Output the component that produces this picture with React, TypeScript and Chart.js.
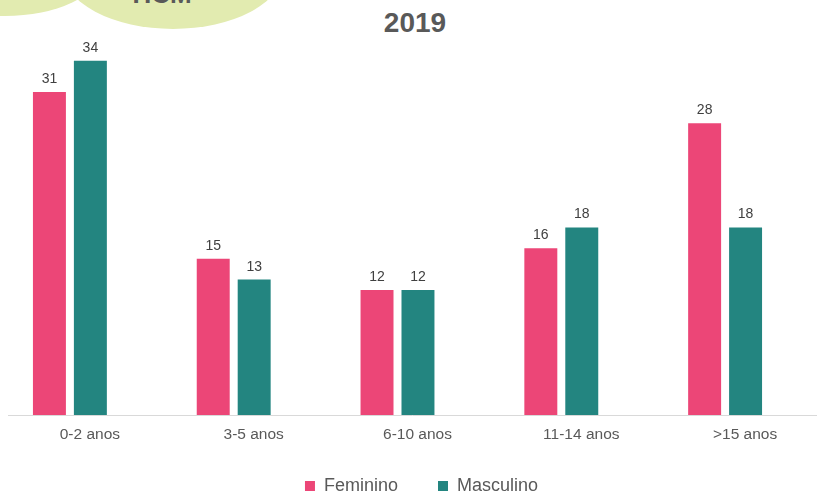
import React, { useEffect, useRef } from "react";
import { Chart, registerables } from "chart.js";

Chart.register(...registerables);

const categories = ["0-2 anos", "3-5 anos", "6-10 anos", "11-14 anos", ">15 anos"];
const seriesNames = ["Feminino", "Masculino"];
const feminino = [31, 15, 12, 16, 28];
const masculino = [34, 13, 12, 18, 18];
const titleText = "2019";
const yMax = 38;

const FONT = "'Liberation Sans', Arial, Helvetica, sans-serif";

const valueLabels = {
  id: "valueLabels",
  afterDatasetsDraw(chart: any) {
    const ctx = chart.ctx;
    ctx.save();
    ctx.font = `14px ${FONT}`;
    ctx.fillStyle = "#404040";
    ctx.textAlign = "center";
    ctx.textBaseline = "alphabetic";
    chart.data.datasets.forEach((ds: any, di: number) => {
      const meta = chart.getDatasetMeta(di);
      meta.data.forEach((el: any, i: number) => {
        ctx.fillText(String(ds.data[i]), el.x, el.y - 9);
      });
    });
    ctx.restore();
  },
};

const baseline = {
  id: "baseline",
  beforeDatasetsDraw(chart: any) {
    const ctx = chart.ctx;
    const y = chart.chartArea.bottom + 0.5;
    ctx.save();
    ctx.strokeStyle = "#d9d9d9";
    ctx.lineWidth = 1;
    ctx.beginPath();
    ctx.moveTo(20, y);
    ctx.lineTo(chart.width, y);
    ctx.stroke();
    ctx.restore();
  },
};

const legendShift = {
  id: "legendShift",
  afterLayout(chart: any) {
    if (chart.legend) {
      chart.legend.left += 24;
      chart.legend.right += 24;
      chart.legend.top -= 29;
      chart.legend.bottom -= 29;
    }
  },
};

export default function App() {
  const ref = useRef<HTMLCanvasElement>(null);

  useEffect(() => {
    if (!ref.current) return;
    const chart = new Chart(ref.current, {
      type: "bar",
      data: {
        labels: categories,
        datasets: [
          {
            label: seriesNames[0],
            data: feminino,
            backgroundColor: "#ec4677",
            categoryPercentage: 0.5,
            barPercentage: 0.805,
          },
          {
            label: seriesNames[1],
            data: masculino,
            backgroundColor: "#238580",
            categoryPercentage: 0.5,
            barPercentage: 0.805,
          },
        ],
      },
      options: {
        responsive: false,
        animation: false,
        devicePixelRatio: 1,
        layout: { padding: { top: 19, right: 10, left: 0, bottom: 0 } },
        plugins: {
          title: { display: false },
          tooltip: { enabled: false },
          legend: {
            position: "bottom",
            labels: {
              font: { family: FONT, size: 18 },
              color: "#595959",
              boxWidth: 10,
              boxHeight: 10,
              padding: 40,
            },
          },
        },
        scales: {
          x: {
            grid: { display: false, drawTicks: false },
            border: { display: false },
            ticks: {
              font: { family: FONT, size: 15.5 },
              color: "#595959",
              padding: 10,
              labelOffset: 20,
              maxRotation: 0,
            },
            afterFit: (s: any) => {
              s.height = 51;
            },
          },
          y: {
            display: false,
            min: 0,
            max: yMax,
          },
        },
      },
      plugins: [valueLabels, baseline, legendShift],
    });
    return () => chart.destroy();
  }, []);

  return (
    <div
      style={{
        position: "fixed",
        left: 0,
        top: 0,
        width: 817,
        height: 495,
        overflow: "hidden",
        background: "#fff",
        fontFamily: FONT,
      }}
    >
      <div
        style={{
          position: "absolute",
          left: 5 - 95,
          top: -30 - 46,
          width: 190,
          height: 92,
          borderRadius: "50%",
          background: "#e2ebb0",
        }}
      />
      <div
        style={{
          position: "absolute",
          left: 173 - 110,
          top: -30 - 59,
          width: 220,
          height: 118,
          borderRadius: "50%",
          background: "#e2ebb0",
        }}
      />
      <div
        style={{
          position: "absolute",
          left: 112,
          width: 100,
          top: -19,
          lineHeight: "26px",
          fontSize: 26,
          fontWeight: "bold",
          color: "#595959",
          textAlign: "center",
        }}
      >
        HCM
      </div>
      <div
        style={{
          position: "absolute",
          left: 315,
          width: 200,
          top: 7,
          lineHeight: "32px",
          fontSize: 28,
          fontWeight: "bold",
          color: "#595959",
          textAlign: "center",
        }}
      >
        {titleText}
      </div>
      <canvas
        ref={ref}
        width={829}
        height={534}
        style={{ position: "absolute", left: -12, top: 0, width: 829, height: 534 }}
      />
    </div>
  );
}
